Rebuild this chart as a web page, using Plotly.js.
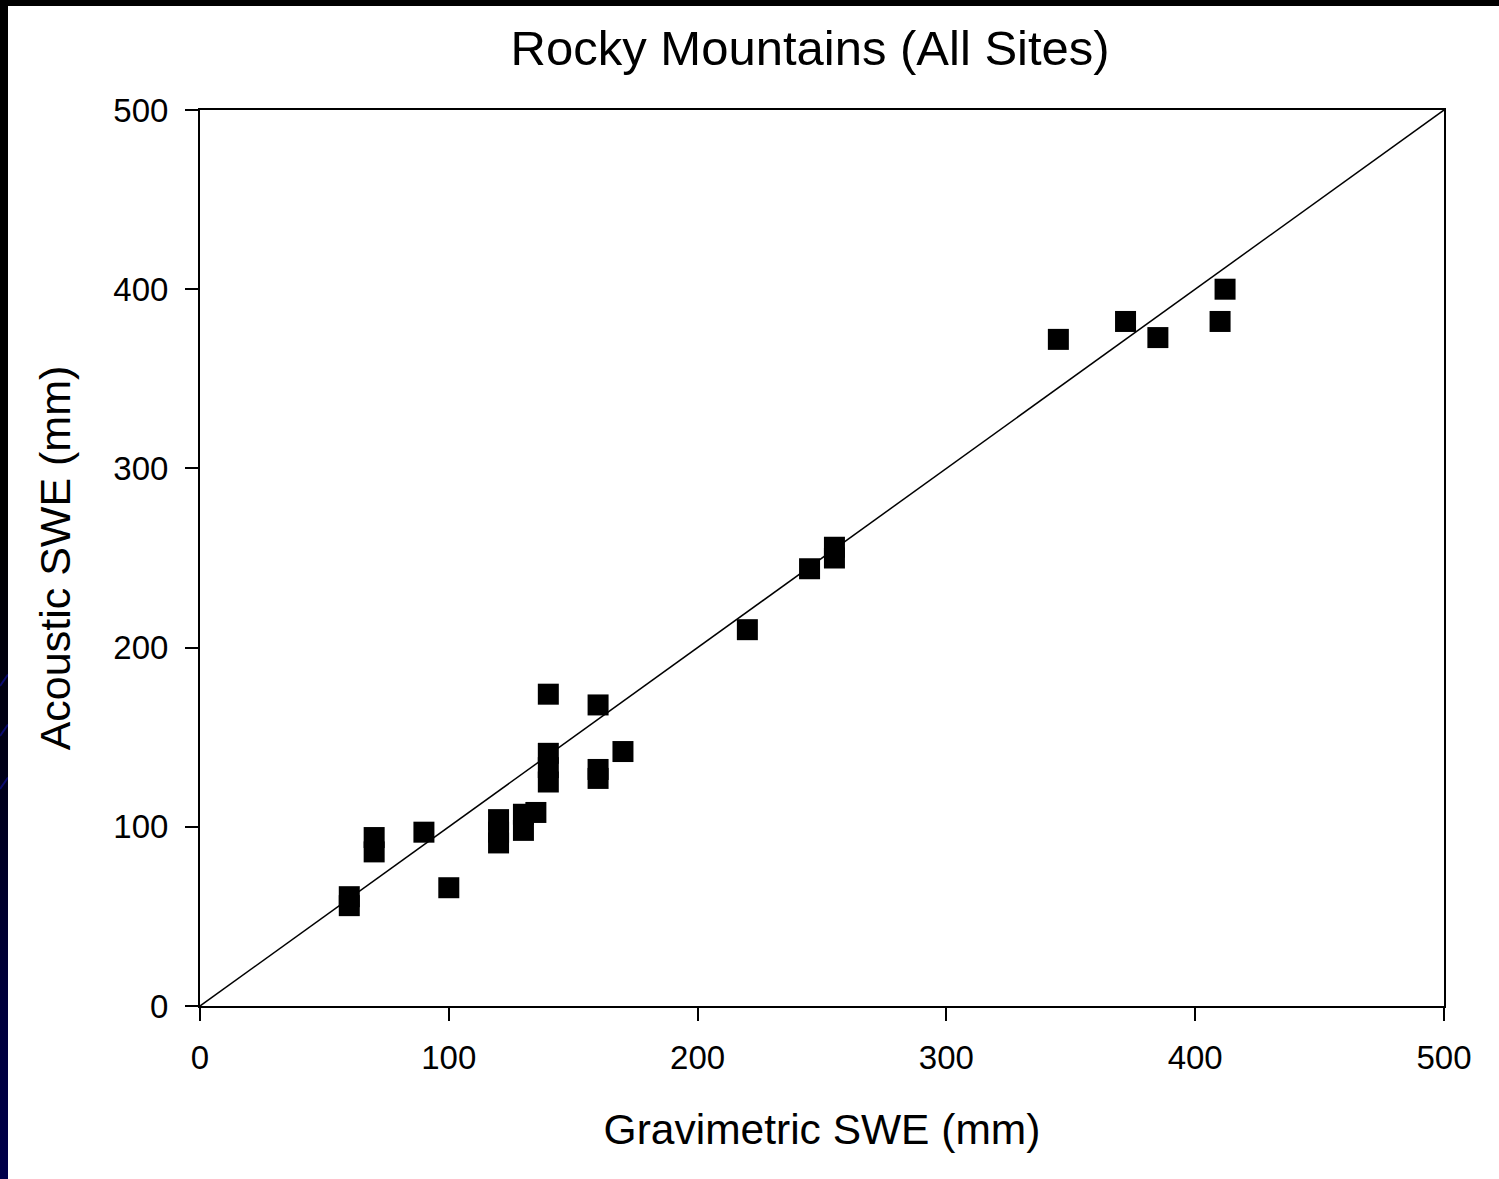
<!DOCTYPE html>
<html>
<head>
<meta charset="utf-8">
<script src="https://cdn.plot.ly/plotly-3.0.1.min.js"></script>
<style>
  html, body { margin: 0; padding: 0; width: 1499px; height: 1179px; overflow: hidden; background: #000; }
  #frame { position: absolute; left: 0; top: 0; width: 8px; height: 1179px;
           background: linear-gradient(to bottom, #000000 0%, #000000 45%, #000018 65%, #00003c 85%, #00004a 100%); }
  .streak { position: absolute; left: 0; width: 14px; height: 2px; background: #0a0a6e; transform: rotate(-55deg); transform-origin: left center; }
  #chart { position: absolute; left: 8px; top: 6px; width: 1491px; height: 1173px; }
</style>
</head>
<body>
<div id="frame"></div>
<div class="streak" style="top:685px"></div>
<div class="streak" style="top:735px"></div>
<div class="streak" style="top:788px"></div>
<div id="chart"></div>
<script>
// Data
const gravimetricSWE = [60, 60, 70, 70, 90, 100, 120, 120, 120, 130, 130, 135, 140, 140, 140, 140, 160, 160, 160, 170, 220, 245, 255, 255, 345, 372, 385, 410, 412];
const acousticSWE    = [61, 56, 94, 86, 97, 66, 104, 97, 91, 107, 98, 108, 141, 133, 125, 174, 168, 132, 127, 142, 210, 244, 256, 250, 372, 382, 373, 382, 400];
const oneToOneX = [0, 500];
const oneToOneY = [0, 500];
const tickValues = [0, 100, 200, 300, 400, 500];
const tickLabels = ["0", "100", "200", "300", "400", "500"];

const FONT = "Liberation Sans, Arial, Helvetica, sans-serif";

const traces = [
  {
    x: oneToOneX, y: oneToOneY, type: "scatter", mode: "lines",
    line: { color: "#000", width: 1.5 }, hoverinfo: "skip", showlegend: false
  },
  {
    x: gravimetricSWE, y: acousticSWE, type: "scatter", mode: "markers",
    marker: { symbol: "square", size: 21, color: "#000", line: { width: 0 } },
    showlegend: false
  }
];

const axisCommon = {
  range: [0, 500], autorange: false,
  tickmode: "array", tickvals: tickValues, ticktext: tickLabels,
  ticks: "outside", ticklen: 13, tickwidth: 2, tickcolor: "#000",
  showline: true, linecolor: "#000", linewidth: 2, mirror: true,
  showgrid: false, zeroline: false,
  tickfont: { family: FONT, size: 33, color: "#000" }
};

const layout = {
  width: 1491, height: 1173,
  paper_bgcolor: "#fff", plot_bgcolor: "#fff",
  margin: { l: 192, r: 55, t: 104, b: 173 },
  title: {
    text: "Rocky Mountains (All Sites)",
    font: { family: FONT, size: 49, color: "#000" },
    xref: "container", x: 0.538, xanchor: "center",
    yref: "container", y: 0.964, yanchor: "middle"
  },
  xaxis: Object.assign({}, axisCommon, {
    ticklabelstandoff: 8,
    title: { text: "Gravimetric SWE (mm)", font: { family: FONT, size: 42.5, color: "#000" }, standoff: 40 }
  }),
  yaxis: Object.assign({}, axisCommon, {
    ticklabelstandoff: 10,
    title: { text: "Acoustic SWE (mm)", font: { family: FONT, size: 43, color: "#000" }, standoff: 29 }
  }),
  showlegend: false
};

Plotly.newPlot("chart", traces, layout, { displayModeBar: false, staticPlot: true });
</script>
</body>
</html>
